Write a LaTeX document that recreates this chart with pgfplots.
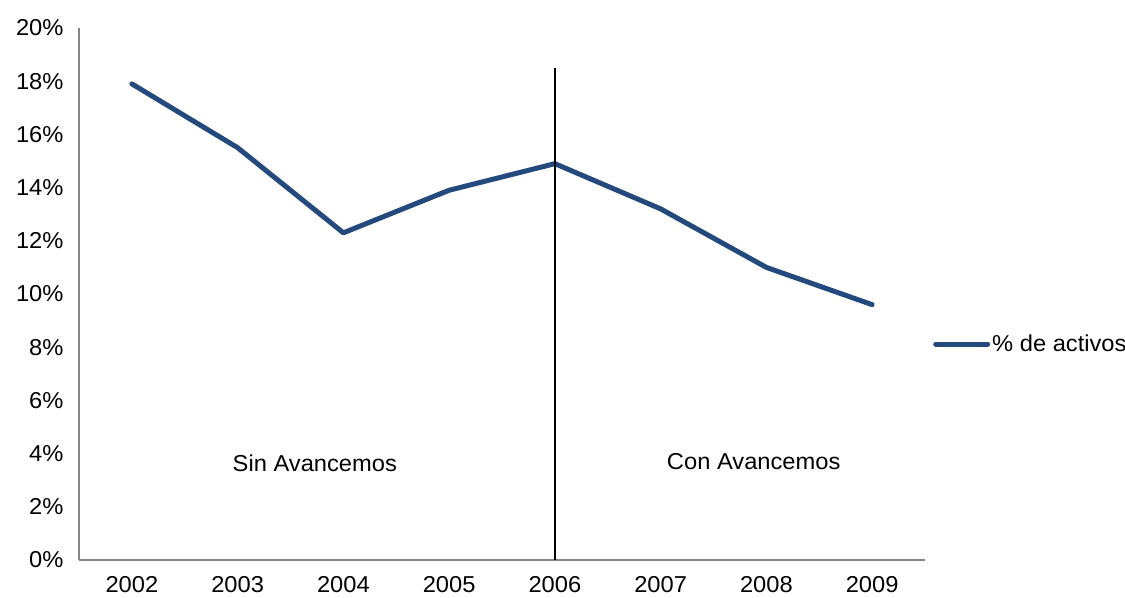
\documentclass[border=0pt]{standalone}
\usepackage{pgfplots}
\pgfplotsset{compat=1.18}
\usepackage{fontspec}
\setmainfont{Liberation Sans}[FakeStretch=1.03]
\definecolor{serie}{RGB}{36,73,125}
\definecolor{eje}{RGB}{134,134,134}
\begin{document}
\begin{tikzpicture}[font=\fontsize{23bp}{27bp}\selectfont]
\useasboundingbox (-79bp,-38bp) rectangle (1046bp,560bp);
\begin{axis}[
  scale only axis,
  width=846bp, height=532bp,
  xmin=-0.5, xmax=7.5,
  ymin=0, ymax=20,
  axis x line=bottom, axis y line=left,
  axis line style={-, eje, line width=1.5bp},
  major tick length=0pt,
  xtick={0,...,7},
  xticklabels={2002,2003,2004,2005,2006,2007,2008,2009},
  ytick={0,2,...,20},
  yticklabels={0\%,2\%,4\%,6\%,8\%,10\%,12\%,14\%,16\%,18\%,20\%},
  xticklabel style={yshift=-13bp},
  yticklabel style={xshift=-12bp},
  legend style={draw=none, fill=none, at={(1,0.406)}, anchor=west,
    xshift=8bp, inner sep=0pt, column sep=2bp,
    nodes={inner sep=0pt, anchor=west}},
  legend image code/.code={\draw[#1, line cap=round] (0bp,0bp) -- (52bp,0bp);},
]
\addplot[serie, line width=5bp, line join=round, line cap=round]
  coordinates {(0,17.9) (1,15.5) (2,12.3) (3,13.9) (4,14.9) (5,13.2) (6,11.0) (7,9.6)};
\addlegendentry{\% de activos}
\addplot[black, line width=1.3bp, forget plot] coordinates {(4,0) (4,18.5)};
\node at (axis cs:1.73,3.65) {Sin Avancemos};
\node at (axis cs:5.88,3.7) {Con Avancemos};
\end{axis}
\end{tikzpicture}
\end{document}
